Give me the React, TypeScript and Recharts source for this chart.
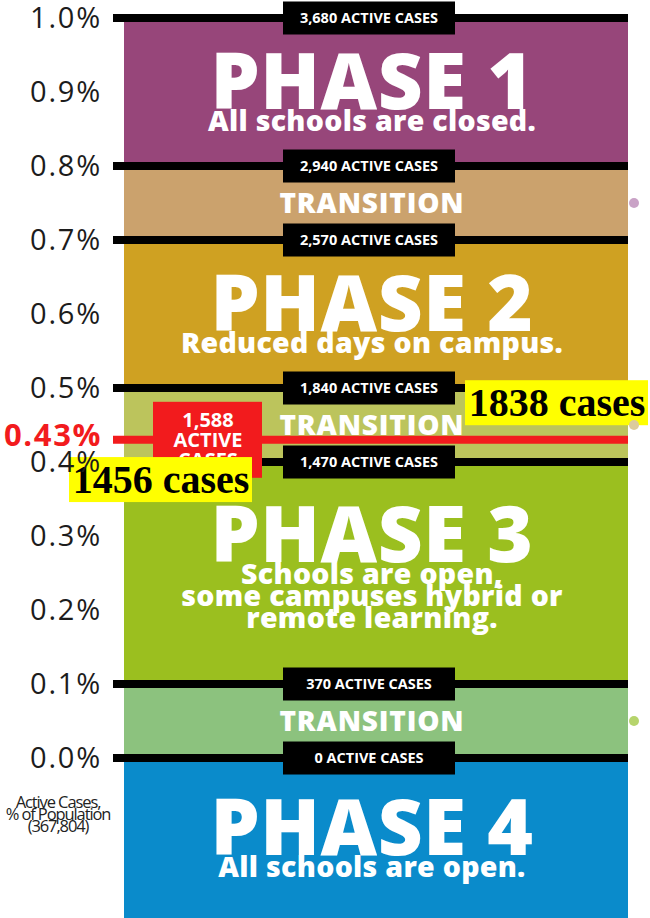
import React from 'react';
import {
  ComposedChart,
  XAxis,
  YAxis,
  ReferenceArea,
  ReferenceLine,
  Scatter
} from 'recharts';

// thresholds (% of population) and the matching case counts
const THRESHOLDS = [1.0, 0.8, 0.7, 0.5, 0.4, 0.1, 0.0];
const THRESHOLD_CASES = ['3,680', '2,940', '2,570', '1,840', '1,470', '370', '0'];

// bands from top to bottom
const BAND_TITLES = ['PHASE 1', 'TRANSITION', 'PHASE 2', 'TRANSITION', 'PHASE 3', 'TRANSITION', 'PHASE 4'];
const BAND_SUBTITLES = [
  ['All schools are closed.'],
  [],
  ['Reduced days on campus.'],
  [],
  ['Schools are open,', 'some campuses hybrid or', 'remote learning.'],
  [],
  ['All schools are open.']
];

const TICKS = [0, 0.1, 0.2, 0.3, 0.4, 0.5, 0.6, 0.7, 0.8, 0.9, 1.0];

const CURRENT_RATE = 0.43;
const CURRENT_CASES = '1,588';
const POPULATION = 367804;
const ANNOTATED_CASES = [1838, 1456];
const DOT_RATES = [0.75, 0.45, 0.05];

// styling
const BAND_COLORS = ['#97467a', '#cba26d', '#cfa122', '#bcc45c', '#9bbf1f', '#8cc27e', '#0a8bcb'];
const DOT_COLORS = ['#c9a2c6', '#dccb9c', '#b6d46c'];
const Y_MIN = -0.2162;
const BAND_X = [11, 515];
const DOT_X = 521;
const FONT = '"Open Sans", sans-serif';

const bands = BAND_TITLES.map((title, i) => ({
  title,
  subtitle: BAND_SUBTITLES[i],
  top: THRESHOLDS[i],
  bottom: i + 1 < THRESHOLDS.length ? THRESHOLDS[i + 1] : Y_MIN,
  color: BAND_COLORS[i]
}));

const dots = DOT_RATES.map((y, i) => ({ x: DOT_X, y, color: DOT_COLORS[i] }));

const Tick = ({ x, y, payload }: any) => (
  <text x={x} y={y} dy={10} textAnchor="end" fontFamily={FONT} fontSize={29} fill="#1c1c1c" letterSpacing={1.8}>
    {payload.value.toFixed(1)}%
  </text>
);

const BandText = ({ viewBox, band }: any) => {
  const { x, y, width, height } = viewBox;
  const cx = x + width / 2 - 4;
  const cy = y + height / 2;
  if (band.title === 'TRANSITION') {
    return (
      <text x={cx} y={cy + 10} textAnchor="middle" fill="#fff" fontFamily={FONT} fontWeight={800} fontSize={28} letterSpacing={0.8}>
        {band.title}
      </text>
    );
  }
  const n = band.subtitle.length;
  const base = cy + 17 - 14 * (n - 1);
  return (
    <g>
      <text x={cx} y={base} textAnchor="middle" fill="#fff" fontFamily={FONT} fontWeight={800} fontSize={78} letterSpacing={0.5}>
        {band.title}
      </text>
      {band.subtitle.map((s: string, i: number) => (
        <text key={i} x={cx} y={base + 22 + 22 * i} textAnchor="middle" fill="#fff" fontFamily={FONT} fontWeight={800} fontSize={28.5} letterSpacing={0.3}>
          {s}
        </text>
      ))}
    </g>
  );
};

const CasesTag = ({ viewBox, cases, last }: any) => {
  const { x, y } = viewBox;
  const left = x + 170;
  return (
    <g>
      <rect x={left} y={y - 16.5} width={172} height={33} fill="#000" />
      <text x={left + 86} y={y + 5} textAnchor="middle" fill="#fff" fontFamily={FONT} fontWeight={700} fontSize={14.5}>
        {cases} ACTIVE CASES
      </text>
      {last && (
        <text x={x - 55} y={y + 50} textAnchor="middle" fill="#222" fontFamily={FONT} fontSize={16.5} letterSpacing={-1.1}>
          <tspan x={x - 55}>Active Cases,</tspan>
          <tspan x={x - 55} dy={12}>% of Population</tspan>
          <tspan x={x - 55} dy={12}>(367,804)</tspan>
        </text>
      )}
    </g>
  );
};

const CurrentTag = ({ viewBox }: any) => {
  const { x, y } = viewBox;
  const left = x + 40;
  return (
    <g>
      <text x={x - 11} y={y + 6} textAnchor="end" fill="#f21b1d" fontFamily={FONT} fontWeight={700} fontSize={31} letterSpacing={1.6}>
        {CURRENT_RATE.toFixed(2)}%
      </text>
      <rect x={left} y={y - 38} width={109} height={76} fill="#f21b1d" />
      <text textAnchor="middle" fill="#fff" fontFamily={FONT} fontWeight={700} fontSize={20}>
        <tspan x={left + 55} y={y - 13}>{CURRENT_CASES}</tspan>
        <tspan x={left + 55} y={y + 7}>ACTIVE</tspan>
        <tspan x={left + 55} y={y + 27}>CASES</tspan>
      </text>
    </g>
  );
};

const CasesNote = ({ viewBox, cases, side }: any) => {
  const { x, y } = viewBox;
  const left = side === 'right' ? x + 352 : x - 44;
  return (
    <g>
      <rect x={left} y={y - 8} width={183} height={45} fill="#ffff00" />
      <text x={left + 92} y={y + 28} textAnchor="middle" fill="#000" fontFamily='"Liberation Serif", serif' fontWeight={700} fontSize={40}>
        {cases} cases
      </text>
    </g>
  );
};

const Dot = ({ cx, cy, payload }: any) => <circle cx={cx} cy={cy} r={5} fill={payload.color} />;

export default function App() {
  return (
    <div style={{ position: 'absolute', left: 0, top: 0, width: 650, height: 918, background: '#fff' }}>
      <ComposedChart width={650} height={918} margin={{ top: 18, right: 0, bottom: 0, left: 0 }}>
        <XAxis type="number" dataKey="x" domain={[0, 537]} hide allowDataOverflow />
        <YAxis
          type="number"
          dataKey="y"
          domain={[Y_MIN, 1]}
          ticks={TICKS}
          width={113}
          tickSize={0}
          tickMargin={11}
          axisLine={false}
          tick={<Tick />}
          allowDataOverflow
        />
        {bands.map((b, i) => (
          <ReferenceArea
            key={'band' + i}
            x1={BAND_X[0]}
            x2={BAND_X[1]}
            y1={b.bottom}
            y2={b.top}
            fill={b.color}
            fillOpacity={1}
            stroke="none"
            label={(props: any) => <BandText {...props} band={b} />}
          />
        ))}
        <Scatter data={dots} dataKey="y" isAnimationActive={false} shape={<Dot />} />
        {THRESHOLDS.map((v, i) => (
          <ReferenceLine
            key={'line' + i}
            segment={[{ x: 0, y: v }, { x: BAND_X[1], y: v }]}
            stroke="#000"
            strokeWidth={8}
            label={(props: any) => <CasesTag {...props} cases={THRESHOLD_CASES[i]} last={i === THRESHOLDS.length - 1} />}
          />
        ))}
        <ReferenceLine
          segment={[{ x: 0, y: CURRENT_RATE }, { x: BAND_X[1], y: CURRENT_RATE }]}
          stroke="#f21b1d"
          strokeWidth={8}
          label={(props: any) => <CurrentTag {...props} />}
        />
        {ANNOTATED_CASES.map((c, i) => {
          const rate = (c / POPULATION) * 100;
          return (
            <ReferenceLine
              key={'note' + i}
              segment={[{ x: 0, y: rate }, { x: BAND_X[1], y: rate }]}
              stroke="none"
              label={(props: any) => <CasesNote {...props} cases={c} side={i === 0 ? 'right' : 'left'} />}
            />
          );
        })}
      </ComposedChart>
    </div>
  );
}
